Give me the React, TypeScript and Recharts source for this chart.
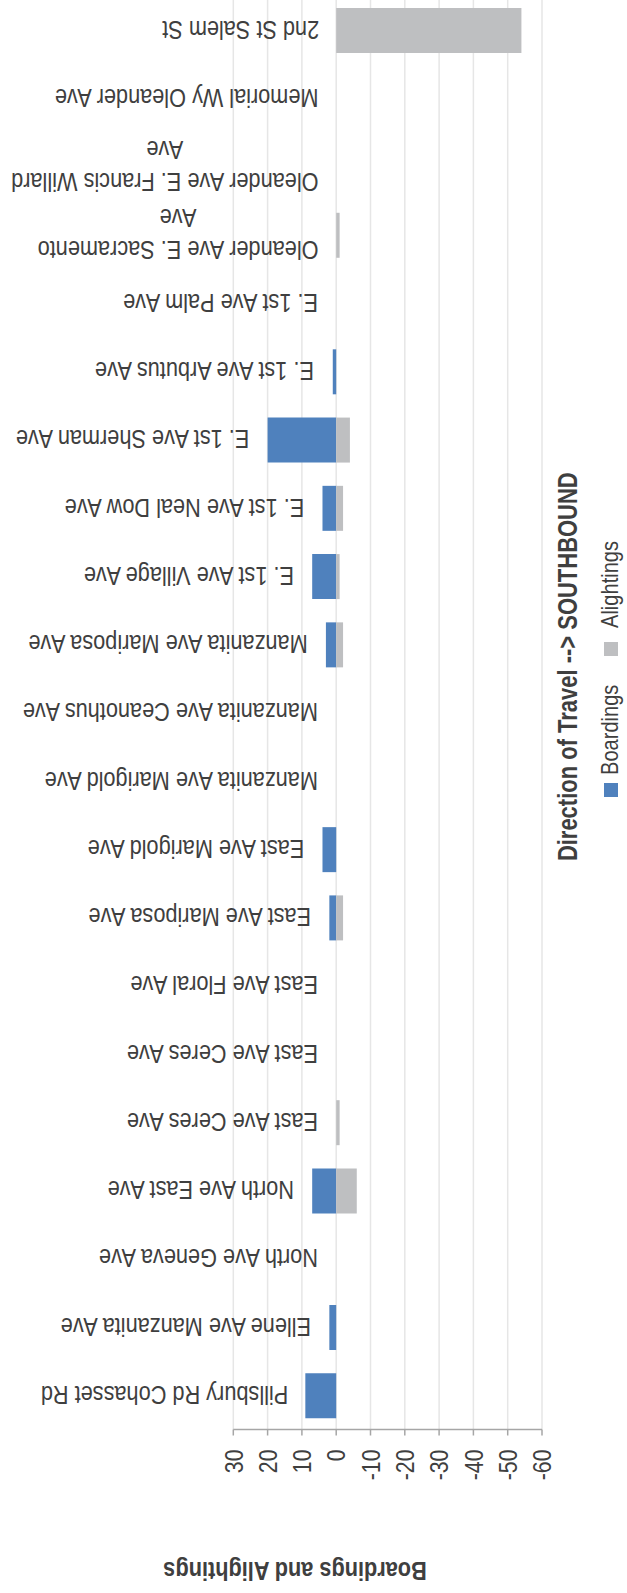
import React from 'react';
import { BarChart, Bar, XAxis, YAxis, CartesianGrid, LabelList, Label } from 'recharts';

// stops in direction of travel (southbound), first stop at the bottom
const stops = [
  'Pillsbury Rd Cohasset Rd',
  'Ellene Ave Manzanita Ave',
  'North Ave Geneva Ave',
  'North Ave East Ave',
  'East Ave Ceres Ave',
  'East Ave Ceres Ave',
  'East Ave Floral Ave',
  'East Ave Mariposa Ave',
  'East Ave Marigold Ave',
  'Manzanita Ave Marigold Ave',
  'Manzanita Ave Ceanothus Ave',
  'Manzanita Ave Mariposa Ave',
  'E. 1st Ave Village Ave',
  'E. 1st Ave Neal Dow Ave',
  'E. 1st Ave Sherman Ave',
  'E. 1st Ave Arbutus Ave',
  'E. 1st Ave Palm Ave',
  'Oleander Ave E. Sacramento Ave',
  'Oleander Ave E. Francis Willard Ave',
  'Memorial Wy Oleander Ave',
  '2nd St Salem St',
];

const boardings = [9, 2, 0, 7, 0, 0, 0, 2, 4, 0, 0, 3, 7, 4, 20, 1, 0, 0, 0, 0, 0];
const alightings = [0, 0, 0, -6, -1, 0, 0, -2, 0, 0, 0, -2, -1, -2, -4, 0, 0, -1, 0, 0, -54];

const valueDomain = [-60, 30];
const valueTicks = [30, 20, 10, 0, -10, -20, -30, -40, -50, -60];

const data = stops.map((name, i) => ({
  name,
  boardings: boardings[i],
  alightings: alightings[i],
}));

// Arial Narrow look: Liberation Sans squeezed along the text direction
const FONT = "'Liberation Sans', Arial, sans-serif";
const SQUEEZE = 0.82;
const TEXT = '#3f3f3f';
const BLUE = '#4F81BD';
const GRAY = '#BEBFC1';

let ctx: CanvasRenderingContext2D | null = null;
function measure(text: string, size: number, weight = 'normal') {
  if (!ctx) ctx = document.createElement('canvas').getContext('2d');
  if (!ctx) return text.length * size * 0.5;
  ctx.font = `${weight} ${size}px ${FONT}`;
  return ctx.measureText(text).width;
}

function wrap(text: string, size: number, maxWidth: number) {
  const lines: string[] = [];
  let cur = '';
  for (const w of text.split(' ')) {
    const next = cur ? cur + ' ' + w : w;
    if (cur && measure(next, size) * SQUEEZE > maxWidth) {
      lines.push(cur);
      cur = w;
    } else {
      cur = next;
    }
  }
  if (cur) lines.push(cur);
  return lines;
}

function narrow(x: number, y: number, angle: number) {
  return `rotate(${angle} ${x} ${y}) translate(${x} ${y}) scale(${SQUEEZE} 1) translate(${-x} ${-y})`;
}

const NText = ({ x, y, angle, anchor = 'middle', size, weight = 'normal', children }: any) => (
  <text
    x={x}
    y={y}
    transform={narrow(x, y, angle)}
    textAnchor={anchor}
    dominantBaseline="central"
    fontFamily={FONT}
    fontSize={size}
    fontWeight={weight}
    fill={TEXT}
  >
    {children}
  </text>
);

// stop name sits just past the end of the boardings bar, upside down
const StopLabel = (props: any) => {
  const vb = props.viewBox ?? props;
  const { x, y, width, height } = vb;
  const end = Math.max(x, x + width);
  const ax = end - 17;
  const ay = y + height / 2;
  const size = 26.5;
  const lines = wrap(String(props.value), size, 322);
  const w = Math.max(...lines.map((l) => measure(l, size)));
  return (
    <text
      transform={narrow(ax, ay, 180)}
      fontFamily={FONT}
      fontSize={size}
      fill={TEXT}
      textAnchor="middle"
      dominantBaseline="central"
    >
      {lines.map((l, i) => (
        <tspan key={i} x={ax + w / 2} y={ay + (i - (lines.length - 1) / 2) * 32}>
          {l}
        </tspan>
      ))}
    </text>
  );
};

const ValueTick = ({ x, y, payload }: any) => (
  <NText x={x} y={y + 12} angle={-90} anchor="end" size={26}>
    {payload.value}
  </NText>
);

const AxisTitle = () => (
  <NText x={295} y={1575} angle={180} size={26.5} weight="bold">
    Boardings and Alightings
  </NText>
);

export default function App() {
  return (
    <div
      style={{
        position: 'fixed',
        left: 0,
        top: -4,
        width: 627,
        height: 1597,
        overflow: 'hidden',
        background: '#fff',
      }}
    >
      <BarChart
        width={627}
        height={1597}
        data={data}
        layout="vertical"
        stackOffset="sign"
        margin={{ top: 0, right: 85, bottom: 103.5, left: 233.3 }}
      >
        <CartesianGrid horizontal={false} stroke="#E6E6E6" strokeWidth={1.5} />
        <YAxis type="category" hide reversed />
        <YAxis yAxisId="lbl" type="category" hide reversed />
        <XAxis
          type="number"
          domain={valueDomain}
          ticks={valueTicks}
          interval={0}
          reversed
          allowDataOverflow
          height={60}
          tickSize={6}
          tick={<ValueTick />}
          tickLine={{ stroke: '#A6A6A6', strokeWidth: 1.5 }}
          axisLine={{ stroke: '#A6A6A6', strokeWidth: 1.5 }}
        >
          <Label content={<AxisTitle />} />
        </XAxis>
        <Bar dataKey="boardings" stackId="s" fill={BLUE} barSize={45} isAnimationActive={false} />
        <Bar dataKey="alightings" stackId="s" fill={GRAY} barSize={45} isAnimationActive={false} />
        {/* invisible span from the boardings end to the axis edge, carries the stop names */}
        <Bar
          yAxisId="lbl"
          dataKey={(d: any) => [d.boardings, valueDomain[1]]}
          fill="none"
          barSize={45}
          isAnimationActive={false}
        >
          <LabelList dataKey="name" content={<StopLabel />} />
        </Bar>
      </BarChart>

      <svg
        width={627}
        height={1597}
        style={{ position: 'absolute', left: 0, top: 0, pointerEvents: 'none' }}
      >
        <NText x={567.5} y={670.7} angle={-90} size={26.8} weight="bold">
          Direction of Travel --&gt; SOUTHBOUND
        </NText>
        <rect x={604} y={787} width={14} height={14} fill={BLUE} />
        <NText x={610} y={779} angle={-90} anchor="start" size={24.5}>
          Boardings
        </NText>
        <rect x={604} y={646} width={14} height={14} fill={GRAY} />
        <NText x={610} y={632} angle={-90} anchor="start" size={24.5}>
          Alightings
        </NText>
      </svg>
    </div>
  );
}
